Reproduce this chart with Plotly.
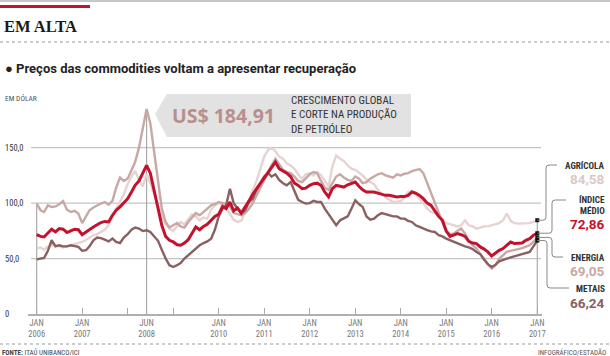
import pandas as pd
import plotly.graph_objects as go

# ---------------- data ----------------
months = pd.date_range("2006-01-01", "2017-01-01", freq="MS")

agricola = [
    59, 60, 58, 61, 62, 62, 61, 60, 61, 62, 63, 64,
    65, 67, 69, 71, 72, 74, 76, 80, 88, 95, 101, 108,
    117, 124, 129, 121, 115, 126, 118, 108, 97, 88, 81, 77,
    75, 79, 83, 81, 86, 90, 88, 84.5, 87, 86, 94, 98,
    100, 99, 96, 91, 85, 83, 84, 92, 103, 112, 120, 132,
    142, 148, 150, 147, 142, 140, 136, 134, 131, 126, 122, 126,
    127, 125, 128, 125, 120, 115, 133, 143, 140, 138, 134, 131,
    130, 127, 125, 121, 119, 117, 112, 108, 105, 103, 101, 101,
    102, 105, 110, 111, 108, 104, 100, 95, 92, 91, 89, 86,
    82, 81, 80, 79, 80, 84.5, 80, 79, 77, 78, 79, 79,
    80, 81, 82, 84.5, 90.6, 84, 82, 81.5, 81.5, 82, 82, 83, 84.58,
]

energia = [
    99.6, 93.6, 92, 98, 96.5, 97, 99, 101.7, 94, 92, 93, 90.6,
    82, 88, 93.6, 96, 98, 99.6, 101, 98.5, 102, 114, 123, 120,
    122, 130, 137, 150, 168, 184.91, 172, 146, 118, 95, 83, 78,
    80, 82, 79, 78, 83, 87, 91, 89, 92, 95, 98, 99,
    101, 100, 99, 97, 91, 90, 89, 91, 95, 100, 107, 114,
    122, 128, 134, 140, 135, 130, 128, 127, 124, 120, 119, 122,
    126, 128, 127, 120, 114, 112, 118, 124, 126, 123, 121, 120,
    124, 122, 118, 119, 122, 124, 126, 127, 125, 124, 123, 126,
    125, 126.5, 127, 128.8, 130, 130.6, 127, 118, 110, 101, 92, 83,
    74, 72, 72.5, 75, 77, 72.5, 66, 62, 59, 54, 50, 45,
    41, 44, 50, 53, 56, 57, 57.5, 58.5, 59.5, 60.5, 62, 65, 69.05,
]

metais = [
    49.3, 50, 50.5, 57, 66.5, 61, 62, 61, 61, 62, 61, 60.5,
    57, 57.5, 61, 66.5, 69, 68.5, 67, 65.5, 68, 65, 64, 69,
    72, 76, 78, 77, 74.8, 75.5, 74, 70, 66, 58, 50, 44,
    42.4, 44, 46, 50, 53, 56, 59.5, 62, 64, 65.5, 68, 76,
    88, 95, 98, 113, 100, 95, 90.6, 93.6, 101, 104, 112, 118,
    124, 127, 124, 126, 121, 118, 116, 119, 110, 103, 101, 99.6,
    100, 102, 101, 101, 95, 90, 86, 80, 84.5, 86, 88, 95,
    102.6, 99, 96.6, 88, 85, 86, 89, 91, 90, 89, 88, 88,
    86, 86, 84, 83, 80, 78.6, 77, 75.6, 74.5, 74, 71, 70,
    68, 66.5, 65, 63.5, 62, 61, 60, 58.5, 56, 54, 49, 45,
    42.4, 44.5, 47.5, 49, 50, 51, 52, 53, 54, 54.5, 56, 61, 66.24,
]

indice = [
    71.6, 70, 69.5, 73, 76.5, 74, 77, 76.5, 73.5, 75, 76.5, 76,
    71.5, 74, 76.5, 78.5, 80.5, 82.5, 83.5, 83, 89, 93.6, 96.6, 100,
    104, 110, 116, 120, 126.7, 134, 127, 112, 96, 80, 70, 66.5,
    65, 62.5, 62, 64, 67, 73, 78.5, 76, 79, 81, 84.5, 88,
    90, 97, 95, 101, 93, 95.5, 91, 96, 102, 108, 113, 118,
    123.5, 128, 132.5, 137, 131, 129, 127, 124, 118, 116, 113, 113.5,
    116, 117.5, 118, 116, 110, 105.6, 113, 116, 115, 114.5, 116.5, 118,
    119, 115, 112, 110, 110, 110, 109, 108, 107, 107, 106, 105.6,
    106, 106, 107, 110, 109, 107, 104, 100, 98, 93, 88, 84.5,
    75, 70, 71, 72.5, 71.5, 70, 65.5, 64, 63.5, 60.5, 58.5, 56,
    52.3, 55, 57.4, 59, 62, 65, 63.5, 63.5, 64, 66.5, 68, 71, 72.86,
]

x_tickvals = ["2006-01-01", "2007-01-01", "2008-01-01", "2008-06-01", "2009-01-01",
              "2010-01-01", "2011-01-01", "2012-01-01", "2013-01-01", "2014-01-01",
              "2015-01-01", "2016-01-01", "2017-01-01"]
x_ticktext = ["JAN<br>2006", "JAN<br>2007", "", "JUN<br>2008", "",
              "JAN<br>2010", "JAN<br>2011", "JAN<br>2012", "JAN<br>2013", "JAN<br>2014",
              "JAN<br>2015", "JAN<br>2016", "JAN<br>2017"]
y_tickvals = [0, 50, 100, 150]
y_ticktext = ["0", "50,0", "100,0", "150,0"]

# ---------------- style ----------------
W, H = 610, 356
ML, MR, MT, MB = 28, 68, 100, 42
YMAX = 193
C_AGR = "#e6d3d2"
C_ENE = "#c8a8a4"
C_MET = "#8b6060"
C_IND = "#c3122d"
SANS = "Roboto"
COND = "Liberation Sans Narrow, Roboto Condensed, Roboto"


def px(xp):
    return (xp - ML) / (W - ML - MR)


def py(yp):
    return (H - MB - yp) / (H - MT - MB)


def fmt(v):
    return f"{v:.2f}".replace(".", ",")


fig = go.Figure()
for name, vals, col, wid in [("Agrícola", agricola, C_AGR, 2.4),
                             ("Energia", energia, C_ENE, 2.4),
                             ("Metais", metais, C_MET, 2.4),
                             ("Índice médio", indice, C_IND, 3)]:
    fig.add_trace(go.Scatter(x=months, y=vals, mode="lines", name=name,
                             line=dict(color=col, width=wid), hoverinfo="skip"))

last = months[-1]
fig.add_trace(go.Scatter(x=[last] * 4, y=[agricola[-1], indice[-1], energia[-1], metais[-1]],
                         mode="markers", marker=dict(symbol="square", size=4, color="#111"),
                         hoverinfo="skip"))

shapes = []
# header rules
shapes.append(dict(type="line", xref="paper", yref="paper", x0=px(0), x1=px(W), y0=py(1), y1=py(1),
                   line=dict(color="#b5b5b5", width=1.5)))
shapes.append(dict(type="line", xref="paper", yref="paper", x0=px(0), x1=px(90), y0=py(6.5), y1=py(6.5),
                   line=dict(color=C_IND, width=3)))
shapes.append(dict(type="line", xref="paper", yref="paper", x0=px(0), x1=px(W), y0=py(42), y1=py(42),
                   line=dict(color="#999", width=1, dash="dot")))
shapes.append(dict(type="line", xref="paper", yref="paper", x0=px(0), x1=px(W), y0=py(344), y1=py(344),
                   line=dict(color="#999", width=1, dash="dot")))
# gridlines
for v in y_tickvals[1:]:
    shapes.append(dict(type="line", xref="paper", yref="paper", x0=px(31), x1=px(541),
                       y0=v / YMAX, y1=v / YMAX, layer="below",
                       line=dict(color="#c4c4c4", width=1.2)))
# drop lines
peak_i = max(range(len(energia)), key=lambda i: energia[i])
for xd, yd in [(months[0], energia[0]), (months[peak_i], energia[peak_i]), (last, agricola[-1])]:
    shapes.append(dict(type="line", xref="x", yref="y", x0=xd, x1=xd, y0=0, y1=yd, layer="below",
                       line=dict(color="#aaaaaa", width=1.2)))
# callout box
path = (f"M {px(167)},{py(94)} L {px(411)},{py(94)} L {px(411)},{py(137)} "
        f"L {px(167)},{py(137)} L {px(155)},{py(114)} Z")
shapes.append(dict(type="path", xref="paper", yref="paper", path=path,
                   fillcolor="#e2e2e2", line=dict(width=0), layer="below"))

# connectors (pixel x, label pixel y)
xs = 537.3


def connector(v, xc, ylab, xe):
    ys = v / YMAX
    yl = py(ylab)
    r = 3
    d = 1 if yl > ys else -1
    ry = r / (H - MT - MB)
    return (f"M {px(xs)},{ys} L {px(xc - r)},{ys} Q {px(xc)},{ys} {px(xc)},{ys + d * ry} "
            f"L {px(xc)},{yl - d * ry} Q {px(xc)},{yl} {px(xc + r)},{yl} L {px(xe)},{yl}")


for v, xc, ylab, xe in [(agricola[-1], 546, 165, 557), (indice[-1], 552, 200, 566),
                        (energia[-1], 552, 257, 563), (metais[-1], 547, 288, 569)]:
    shapes.append(dict(type="path", xref="paper", yref="paper", path=connector(v, xc, ylab, xe),
                       line=dict(color="#888", width=1)))

ann = []


def text(t, x, y, size, color="#222", anchor="left", family=SANS, yref="paper", valign="middle"):
    ann.append(dict(text=t, x=px(x), y=(py(y) if yref == "paper" else y), xref="paper", yref=yref,
                    xanchor=anchor, yanchor=valign, showarrow=False, align=anchor,
                    font=dict(family=family, size=size, color=color)))


text("<b>EM ALTA</b>", 2, 27, 16.5, "#1a1a1a", family="Liberation Serif")
text("<b>● Preços das commodities voltam a apresentar recuperação</b>", 3, 68.5, 13, "#222")
text("EM DÓLAR", 3, 98, 7.5, "#555", family=COND)
for v, t in zip(y_tickvals, y_ticktext):
    ann.append(dict(text=t, x=px(3), y=v, xref="paper", yref="y", xanchor="left", yanchor="middle",
                    showarrow=False, font=dict(family=COND, size=8.5, color="#333")))
text(f"<b>US$ {fmt(energia[peak_i])}</b>", 170, 115.5, 19.5, "#b88f8d", family="Open Sans")
ann.append(dict(text="CRESCIMENTO GLOBAL<br>E CORTE NA PRODUÇÃO<br>DE PETRÓLEO", x=px(289), y=py(114.5),
                xref="paper", yref="paper", xanchor="left", yanchor="middle", showarrow=False,
                align="left", font=dict(family=COND, size=11, color="#333")))

# right labels
text("<b>AGRÍCOLA</b>", 607, 165, 9.2, "#333", "right", COND)
text(f"<b>{fmt(agricola[-1])}</b>", 607, 179, 13.5, "#dcc8c7", "right", SANS)
text("<b>ÍNDICE</b>", 607, 199.5, 9.2, "#333", "right", COND)
text("<b>MÉDIO</b>", 607, 210.5, 9.2, "#333", "right", COND)
text(f"<b>{fmt(indice[-1])}</b>", 607, 224, 13.5, C_IND, "right", SANS)
text("<b>ENERGIA</b>", 607, 257, 9.2, "#333", "right", COND)
text(f"<b>{fmt(energia[-1])}</b>", 607, 270.5, 13.5, C_ENE, "right", SANS)
text("<b>METAIS</b>", 607, 288, 9.2, "#333", "right", COND)
text(f"<b>{fmt(metais[-1])}</b>", 607, 303, 13.5, C_MET, "right", SANS)

# footer
text("<b>FONTE:</b> ITAÚ UNIBANCO/ICI", 0, 352.5, 7, "#444", family=COND)
text("INFOGRÁFICO/ESTADÃO", 608, 352.5, 7, "#555", "right", COND)

start = months[0] - pd.Timedelta(days=69.8)
end = last + pd.Timedelta(days=37.7)

fig.update_layout(
    width=W, height=H, autosize=False,
    margin=dict(l=ML, r=MR, t=MT, b=MB, pad=0),
    paper_bgcolor="white", plot_bgcolor="white", showlegend=False,
    shapes=shapes, annotations=ann,
    xaxis=dict(type="date", range=[start, end], tickvals=x_tickvals, ticktext=x_ticktext,
               showgrid=False, zeroline=False, showline=True, linecolor="#b0b0b0", linewidth=1.5,
               ticks="inside", ticklen=6, tickcolor="#aaaaaa", tickwidth=1,
               tickfont=dict(family=COND, size=8.5, color="#777")),
    yaxis=dict(range=[0, YMAX], showgrid=False, zeroline=False, showticklabels=False,
               showline=False, ticks=""),
)

fig.write_html("out.html", config={"displayModeBar": False},
               post_script="document.body.style.margin='0';document.body.style.overflow='hidden';")
